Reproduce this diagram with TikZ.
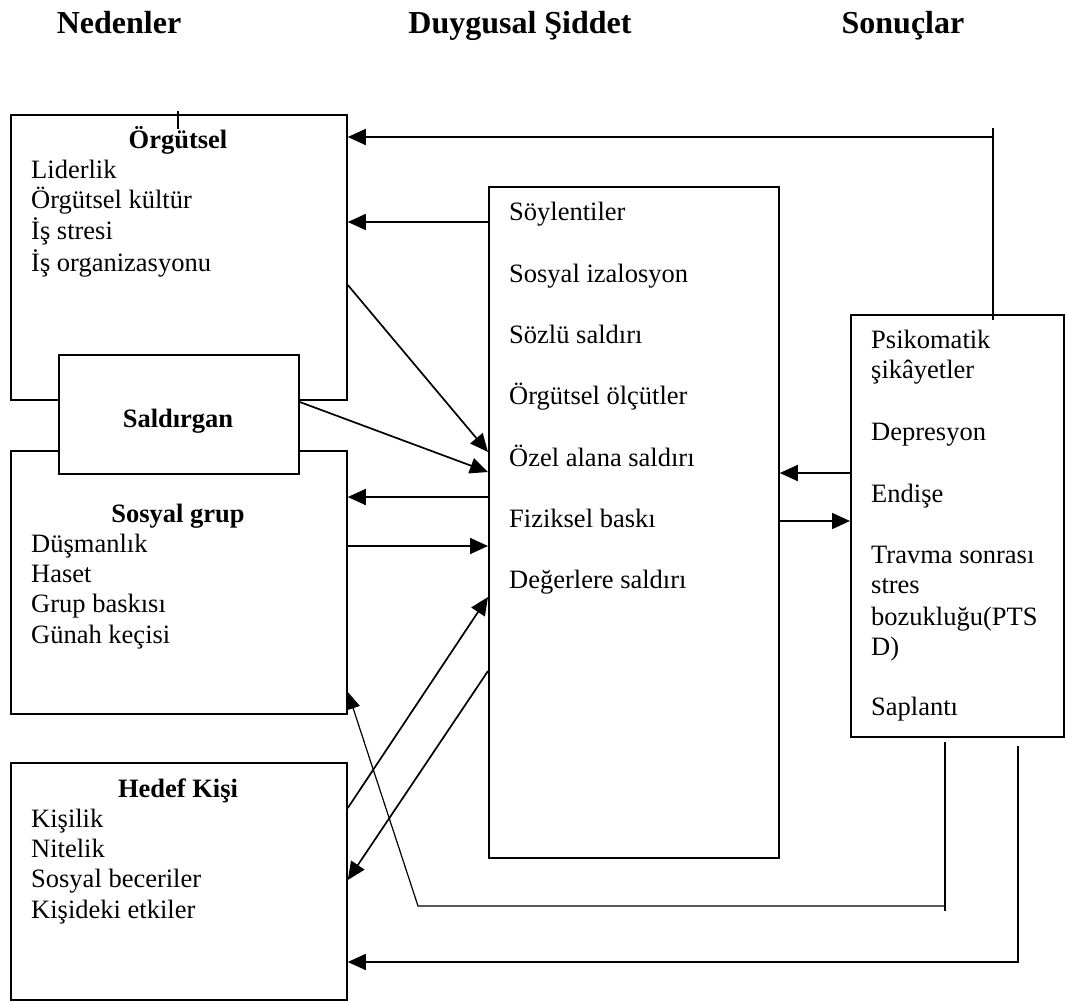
\documentclass[tikz,border=0pt]{standalone}
\usepackage{fontspec}
\setmainfont{Liberation Serif}
\usetikzlibrary{arrows.meta,calc}
\begin{document}
\begin{tikzpicture}[x=1pt,y=-1pt,
  box/.style={draw, line width=1.8pt, fill=white, inner sep=0pt, anchor=north west},
  body/.style={font=\fontsize{26.5}{30}\selectfont, inner sep=0pt, anchor=base west},
  bhead/.style={font=\fontsize{26.5}{30}\selectfont\bfseries, inner sep=0pt, anchor=base},
  head/.style={font=\fontsize{32}{36}\selectfont\bfseries, inner sep=0pt, anchor=base},
  conn/.style={line width=1.7pt, -{Triangle[length=18pt,width=16pt]}},
  thinconn/.style={line width=1.2pt, -{Triangle[length=17pt,width=14pt]}},
  link/.style={line width=1.5pt},
]
\useasboundingbox (0,0) rectangle (1066,1001);

% headers
\node[head] (h1) at (119,33) {Nedenler};
\node[head] (h2) at (520,33) {Duygusal Şiddet};
\node[head] (h3) at (903,33) {Sonuçlar};

% boxes
\node[box, minimum width=336pt, minimum height=285pt] (org) at (10,114) {};
\node[box, minimum width=336pt, minimum height=263pt] (sos) at (10,450) {};
\node[box, minimum width=240pt, minimum height=119pt] (sal) at (58,354) {};
\node[box, minimum width=336pt, minimum height=237pt] (hed) at (10,762) {};
\node[box, minimum width=290pt, minimum height=671pt] (cen) at (488,186) {};
\node[box, minimum width=213pt, minimum height=422pt] (son) at (850,314) {};

% Orgutsel
\node[bhead] (orgT) at (178,148) {Örgütsel};
\node[body] (o1) at (31,178) {Liderlik};
\node[body] (o2) at (31,208) {Örgütsel kültür};
\node[body] (o3) at (31,239) {İş stresi};
\node[body] (o4) at (31,271) {İş organizasyonu};
\draw[line width=1.1pt] (178,111) -- (178,129);

% Saldirgan
\node[bhead] (salT) at (178,427) {Saldırgan};

% Sosyal grup
\node[bhead] (sosT) at (178,522) {Sosyal grup};
\node[body] (s1) at (31,552) {Düşmanlık};
\node[body] (s2) at (31,582) {Haset};
\node[body] (s3) at (31,612) {Grup baskısı};
\node[body] (s4) at (31,643) {Günah keçisi};

% Hedef Kisi
\node[bhead] (hedT) at (178,797) {Hedef Kişi};
\node[body] (k1) at (31,827) {Kişilik};
\node[body] (k2) at (31,857) {Nitelik};
\node[body] (k3) at (31,887) {Sosyal beceriler};
\node[body] (k4) at (31,918) {Kişideki etkiler};

% central
\node[body] (c1) at (509,220) {Söylentiler};
\node[body] (c2) at (509,282) {Sosyal izalosyon};
\node[body] (c3) at (509,343) {Sözlü saldırı};
\node[body] (c4) at (509,404) {Örgütsel ölçütler};
\node[body] (c5) at (509,466) {Özel alana saldırı};
\node[body] (c6) at (509,527) {Fiziksel baskı};
\node[body] (c7) at (509,588) {Değerlere saldırı};

% Sonuclar
\node[body] (r1) at (871,348) {Psikomatik};
\node[body] (r2) at (871,378) {şikâyetler};
\node[body] (r3) at (871,440) {Depresyon};
\node[body] (r4) at (871,502) {Endişe};
\node[body] (r5) at (871,563) {Travma sonrası};
\node[body] (r6) at (871,593) {stres};
\node[body] (r7) at (871,625) {bozukluğu(PTS};
\node[body] (r8) at (871,655) {D)};
\node[body] (r9) at (871,715) {Saplantı};

% connectors
\coordinate (tA) at (993,320);
\coordinate (tB) at (993,128);
\draw[link] (tA) -- (tB);
\draw[conn] (tA |- 0,137) -- (org.east |- 0,137);

\draw[conn] (cen.west |- 0,222) -- (org.east |- 0,222);
\draw[conn] (org.east |- 0,285) -- (cen.west |- 0,452);
\draw[conn] (sal.east |- 0,402) -- (cen.west |- 0,472);
\draw[conn] (cen.west |- 0,497) -- (sos.east |- 0,497);
\draw[conn] (sos.east |- 0,546) -- (cen.west |- 0,546);
\draw[conn] (hed.east |- 0,808) -- (cen.west |- 0,597);
\draw[conn] (cen.west |- 0,671) -- (hed.east |- 0,880);

\draw[conn] (son.west |- 0,473) -- (cen.east |- 0,473);
\draw[conn] (cen.east |- 0,521) -- (son.west |- 0,521);

\coordinate (bA) at (945,742);
\coordinate (bB) at (945,911);
\coordinate (bC) at (418,906);
\draw[link] (bA) -- (bB);
\draw[thinconn] (bA |- bC) -- (bC) -- (sos.east |- 0,692);

\coordinate (dA) at (1018,746);
\coordinate (dB) at (1018,962);
\draw[conn] (dA) -- (dB) -- (hed.east |- dB);
\end{tikzpicture}
\end{document}
